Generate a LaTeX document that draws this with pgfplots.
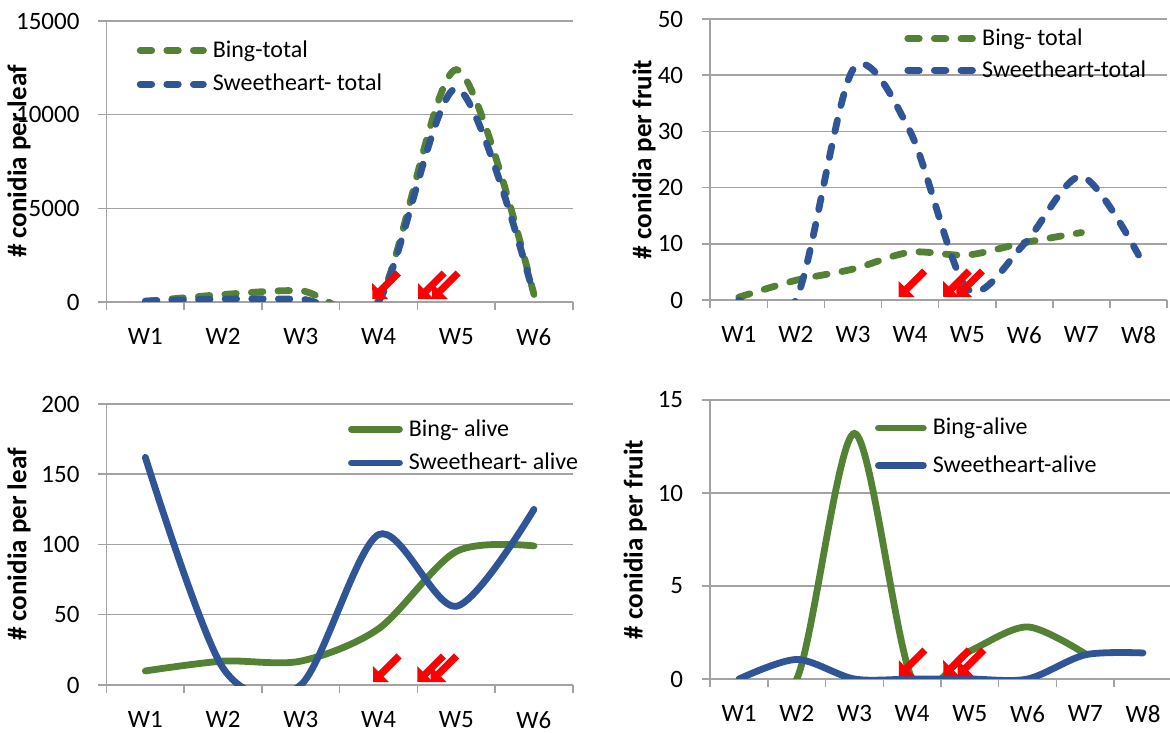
\documentclass[border=0pt]{standalone}
\usepackage{fontspec}
\setmainfont{Carlito}
\usepackage{pgfplots}
\pgfplotsset{compat=1.18}
\usetikzlibrary{arrows.meta}
\definecolor{cg}{RGB}{84,130,53}
\definecolor{cb}{RGB}{47,85,151}
\definecolor{gridc}{RGB}{163,163,163}
\tikzset{
  arr/.style={red, line width=3.6pt, -{Triangle[length=5.6pt,width=11pt]}},
  dsh/.style={line width=3.4pt, line cap=round, dash pattern=on 5.75pt off 7.55pt, smooth, tension=0.5},
  sld/.style={line width=3.4pt, line cap=round, smooth, tension=0.5},
}
\pgfplotsset{
  chart/.style={
    scale only axis,
    axis lines*=left,
    axis line style={gridc, line width=0.75pt},
    ymajorgrids,
    grid style={gridc, line width=0.75pt},
    tick align=outside,
    major tick length=4.2pt,
    tick style={gridc, line width=0.75pt},
    ymin=0, xmin=0.5,
    scaled y ticks=false,
    clip mode=individual,
    tick label style={font=\fontsize{12.5}{15}\selectfont, text=black},
    yticklabel style={xshift=-5.8pt},
    ylabel style={font=\bfseries\fontsize{13.5}{16}\selectfont, anchor=center},
    legend style={draw=none, fill=none, inner sep=0pt, outer sep=0pt,
      font=\fontsize{12}{14}\selectfont, anchor=north west,
      nodes={inner sep=0pt}, column sep=3pt, row sep=7pt},
    legend cell align=left,
  },
}
\newcommand{\arrowat}[1]{\draw[arr] ([shift={(13pt,14.5pt)}]axis cs:#1,0) -- ([yshift=1.5pt]axis cs:#1,0);}
\begin{document}
\begin{tikzpicture}[x=1pt,y=1pt]
\useasboundingbox (0,0) rectangle (585,366);
% Panel 1
\begin{axis}[chart, at={(53.25pt,215pt)}, anchor=south west,
  width=233.15pt, height=140.5pt,
  xmax=6.5, ymax=15000,
  xtick={0.5,1.5,2.5,3.5,4.5,5.5,6.5}, xticklabels={W1,W2,W3,W4,W5,W6,{}},
  xticklabel style={xshift=19.43pt, yshift=-5.5pt},
  ytick={0,5000,10000,15000}, yticklabels={0,5000,10000,15000},
  ylabel={\# conidia per leaf}, ylabel style={at={(axis description cs:-0.1876,0.5)}},
  legend style={at={(axis description cs:0.065,0.93)}},
  legend image code/.code={\draw[#1] (0pt,0pt) -- (31.6pt,0pt);},
]
\addplot[cg, dsh] coordinates {(1,30) (2,400) (3,600) (4,50) (5,12400) (6,400)};
\addlegendentry{Bing-total}
\addplot[cb, dsh] coordinates {(1,50) (2,160) (3,150) (4,50) (5,11400) (6,350)};
\addlegendentry{Sweetheart- total}
\arrowat{3.92}
\arrowat{4.51}
\arrowat{4.69}
\end{axis}
% Panel 2
\begin{axis}[chart, at={(355.1pt,216pt)}, anchor=south west,
  width=228.45pt, height=140.5pt,
  xmax=8.5, ymax=50,
  xtick={0.5,1.5,2.5,3.5,4.5,5.5,6.5,7.5,8.5}, xticklabels={W1,W2,W3,W4,W5,W6,W7,W8,{}},
  xticklabel style={xshift=14.28pt, yshift=-5.5pt},
  ytick={0,10,20,30,40,50}, yticklabels={0,10,20,30,40,50},
  ylabel={\# conidia per fruit}, ylabel style={at={(axis description cs:-0.145,0.5)}},
  legend style={at={(axis description cs:0.425,0.965)}, row sep=6pt},
  legend image code/.code={\draw[#1] (0pt,0pt) -- (32.5pt,0pt);},
]
\addplot[cg, dsh] coordinates {(1,0.5) (2,3.5) (3,5.5) (4,8.5) (5,8) (6,10.2) (7,12)};
\addlegendentry{Bing- total}
\addplot[cb, dsh] coordinates {(1,0) (2,0) (3,41) (4,30) (5,2) (6,10) (7,22) (8,8)};
\addlegendentry{Sweetheart-total}
\arrowat{3.80}
\arrowat{4.58}
\arrowat{4.81}
\end{axis}
% Panel 3
\begin{axis}[chart, at={(53.25pt,23.5pt)}, anchor=south west,
  width=233.15pt, height=140.5pt,
  xmax=6.5, ymax=200,
  xtick={0.5,1.5,2.5,3.5,4.5,5.5,6.5}, xticklabels={W1,W2,W3,W4,W5,W6,{}},
  xticklabel style={xshift=19.43pt, yshift=-5.5pt},
  ytick={0,50,100,150,200}, yticklabels={0,50,100,150,200},
  ylabel={\# conidia per leaf}, ylabel style={at={(axis description cs:-0.1876,0.5)}},
  legend style={at={(axis description cs:0.518,0.945)}},
  legend image code/.code={\draw[#1] (0pt,0pt) -- (24pt,0pt);},
]
\addplot[cg, sld] coordinates {(1,10) (2,17) (3,17) (4,40) (5,95) (6,99)};
\addlegendentry{Bing- alive}
\addplot[cb, sld] coordinates {(1,162) (2,12) (3,0) (4,107) (5,56) (6,125)};
\addlegendentry{Sweetheart- alive}
\arrowat{3.93}
\arrowat{4.50}
\arrowat{4.67}
\end{axis}
% Panel 4
\begin{axis}[chart, at={(355.1pt,26.5pt)}, anchor=south west,
  width=230.8pt, height=139.5pt,
  xmax=8.5, ymax=15,
  xtick={0.5,1.5,2.5,3.5,4.5,5.5,6.5,7.5,8.5}, xticklabels={W1,W2,W3,W4,W5,W6,W7,W8,{}},
  xticklabel style={xshift=14.43pt, yshift=-5.5pt},
  ytick={0,5,10,15}, yticklabels={0,5,10,15},
  ylabel={\# conidia per fruit}, ylabel style={at={(axis description cs:-0.1625,0.5)}},
  legend style={at={(axis description cs:0.357,0.935)}, row sep=9pt},
  legend image code/.code={\draw[#1] (0pt,0pt) -- (22.5pt,0pt);},
]
\addplot[cg, sld] coordinates {(1,0) (2,0) (3,13.2) (4,0) (5,1.5) (6,2.8) (7,1.35)};
\addlegendentry{Bing-alive}
\addplot[cb, sld] coordinates {(1,0) (2,1.05) (3,0) (4,0) (5,0) (6,0) (7,1.3) (8,1.4)};
\addlegendentry{Sweetheart-alive}
\arrowat{3.77}
\arrowat{4.54}
\arrowat{4.79}
\end{axis}
\end{tikzpicture}
\end{document}
